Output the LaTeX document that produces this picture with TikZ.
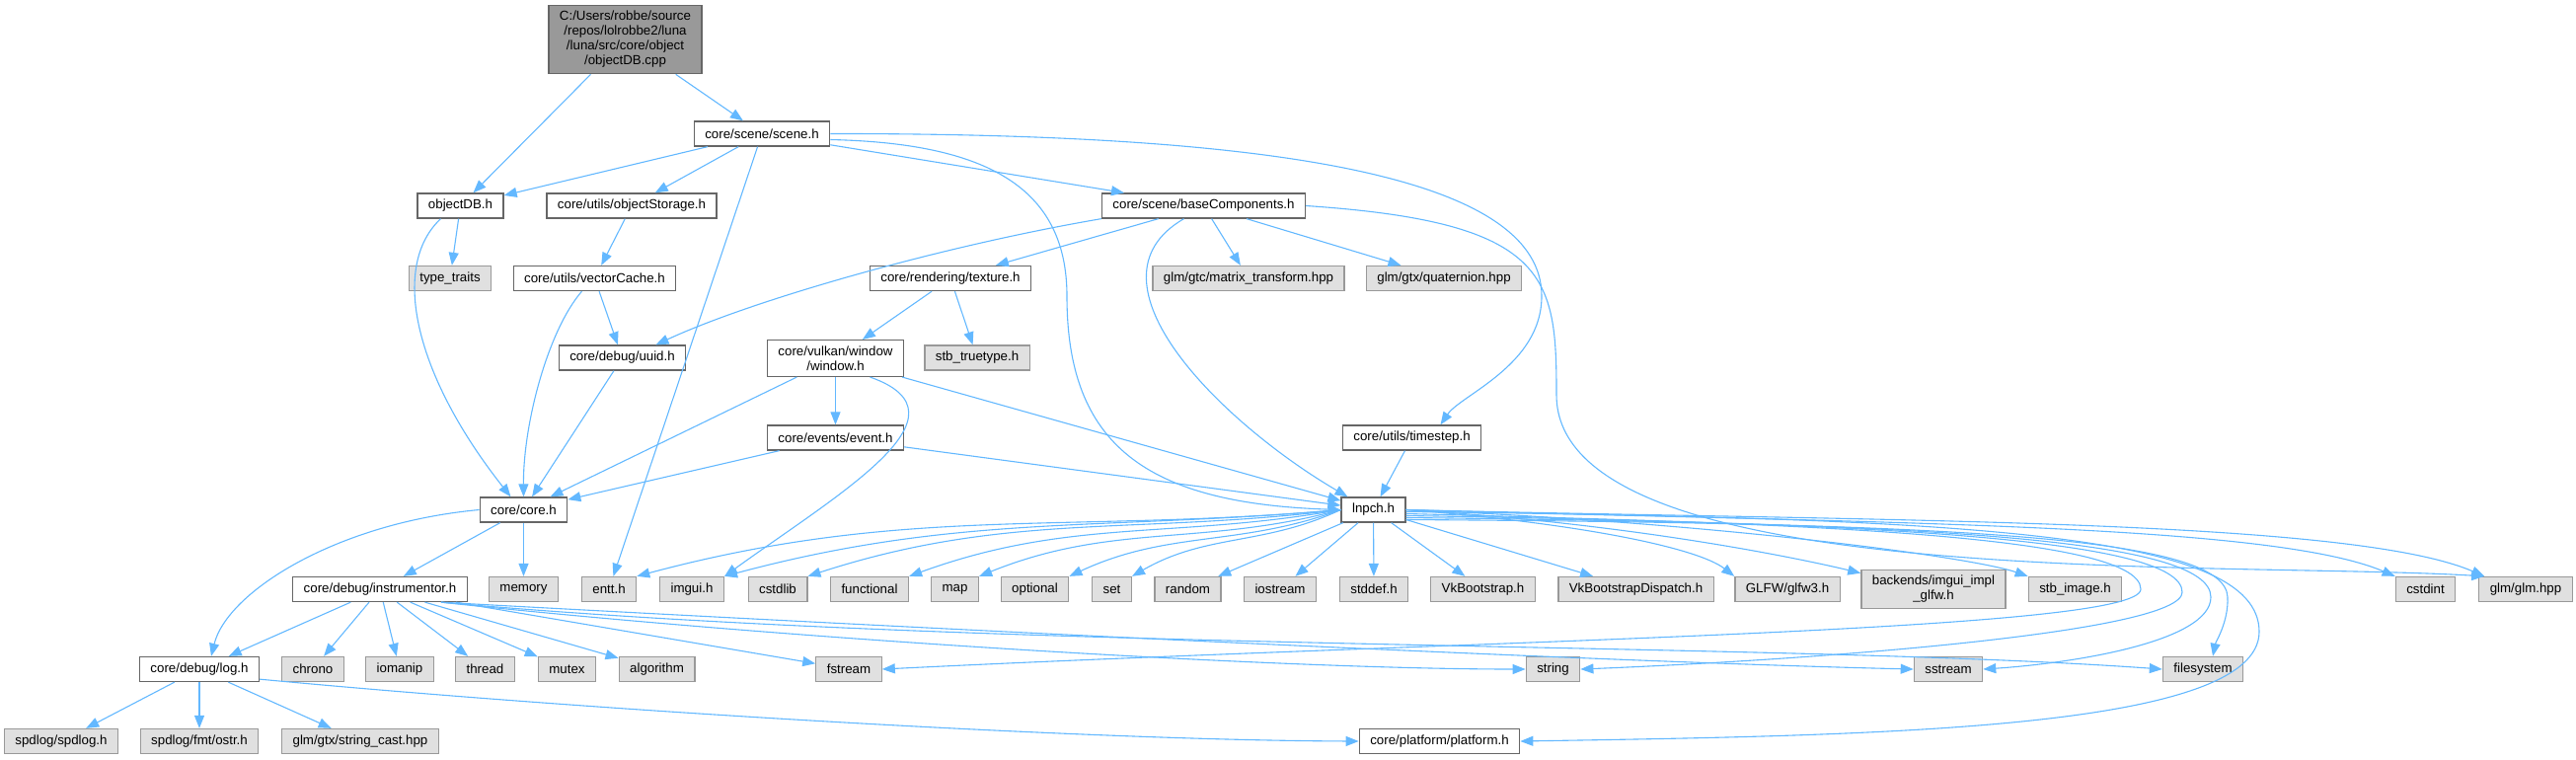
\documentclass[tikz,border=0pt]{standalone}
\usepackage{fontspec}
\setmainfont{Liberation Sans}
\usetikzlibrary{arrows.meta}
\definecolor{edgeblue}{HTML}{63B8FF}
\definecolor{hdrline}{HTML}{666666}
\definecolor{sysline}{HTML}{999999}
\definecolor{sysfill}{HTML}{E0E0E0}
\definecolor{rootfill}{HTML}{999999}

\begin{document}
\begin{tikzpicture}[x=1pt, y=1pt,
  every node/.style = {shape=rectangle, draw=hdrline, fill=white,
    line width=1.3pt, align=center, font=\fontsize{13.3}{15}\selectfont,
    inner xsep=11pt, inner ysep=6pt, minimum height=25pt},
  sys/.style = {draw=sysline, fill=sysfill},
  root/.style = {fill=rootfill},
  inc/.style = {draw=edgeblue, line width=1.1pt,
    -{Triangle[length=13pt, width=10pt]}}]
  \useasboundingbox (0,0) rectangle (2610,-769);

  \node[root] (cpp) at (633.5,-40) {C:/Users/robbe/source\\/repos/lolrobbe2/luna\\/luna/src/core/object\\/objectDB.cpp};
  \node (scene) at (772,-135.5) {core/scene/scene.h};
  \node (objdbh) at (466.5,-208.5) {objectDB.h};
  \node (objstor) at (640,-208.5) {core/utils/objectStorage.h};
  \node (base) at (1219.5,-208.5) {core/scene/baseComponents.h};
  \node[sys] (typetr) at (456,-282) {type\_traits};
  \node (veccache) at (602.5,-282) {core/utils/vectorCache.h};
  \node (texture) at (963,-282) {core/rendering/texture.h};
  \node[sys] (matrix) at (1265,-282) {glm/gtc/matrix\_transform.hpp};
  \node[sys] (quat) at (1463,-282) {glm/gtx/quaternion.hpp};
  \node (uuid) at (630.5,-362.5) {core/debug/uuid.h};
  \node (window) at (846.5,-363) {core/vulkan/window\\/window.h};
  \node[sys] (truetype) at (990,-362.5) {stb\_truetype.h};
  \node (event) at (846.5,-443.5) {core/events/event.h};
  \node (timestep) at (1430.5,-443.5) {core/utils/timestep.h};
  \node (core) at (530.5,-516.5) {core/core.h};
  \node (lnpch) at (1391.5,-516.5) {lnpch.h};

  \node (instr) at (385,-597) {core/debug/instrumentor.h};
  \node[sys] (memory) at (530.5,-597) {memory};
  \node[sys] (entt) at (617,-597) {entt.h};
  \node[sys] (imgui) at (701,-597) {imgui.h};
  \node[sys] (cstdlib) at (788,-597) {cstdlib};
  \node[sys] (functional) at (881,-597) {functional};
  \node[sys] (map) at (967.5,-597) {map};
  \node[sys] (optional) at (1048.5,-597) {optional};
  \node[sys] (set) at (1126.5,-597) {set};
  \node[sys] (random) at (1203.5,-597) {random};
  \node[sys] (iostream) at (1297,-597) {iostream};
  \node[sys] (stddef) at (1392,-597) {stddef.h};
  \node[sys] (vkb) at (1502.5,-597) {VkBootstrap.h};
  \node[sys] (vkbd) at (1657.5,-597) {VkBootstrapDispatch.h};
  \node[sys] (glfw) at (1811,-597) {GLFW/glfw3.h};
  \node[sys] (backends) at (1959,-597) {backends/imgui\_impl\\\_glfw.h};
  \node[sys] (stbimage) at (2102.5,-597) {stb\_image.h};
  \node[sys] (cstdint) at (2457.5,-597) {cstdint};
  \node[sys] (glm) at (2559,-597) {glm/glm.hpp};

  \node (log) at (202,-678) {core/debug/log.h};
  \node[sys] (chrono) at (317,-678) {chrono};
  \node[sys] (iomanip) at (405,-678) {iomanip};
  \node[sys] (thread) at (491.5,-678) {thread};
  \node[sys] (mutex) at (574.5,-678) {mutex};
  \node[sys] (algorithm) at (665.5,-678) {algorithm};
  \node[sys] (fstream) at (860,-678) {fstream};
  \node[sys] (string) at (1573.5,-678) {string};
  \node[sys] (sstream) at (1974,-678) {sstream};
  \node[sys] (filesystem) at (2232,-678) {filesystem};

  \node[sys] (spdlog) at (62,-751) {spdlog/spdlog.h};
  \node[sys] (ostr) at (202,-751) {spdlog/fmt/ostr.h};
  \node[sys] (strcast) at (365,-751) {glm/gtx/string\_cast.hpp};
  \node (platform) at (1458.5,-751) {core/platform/platform.h};

  \foreach \a/\b in {cpp/objdbh, cpp/scene, scene/objdbh, scene/objstor,
      scene/base, scene/entt, base/texture, base/matrix, base/quat,
      objdbh/typetr, objstor/veccache, veccache/uuid, uuid/core,
      texture/window, texture/truetype, window/core, window/event,
      window/lnpch, event/core, event/lnpch, timestep/lnpch,
      core/instr, core/memory, instr/log, instr/chrono, instr/iomanip,
      instr/thread, instr/mutex, instr/algorithm, instr/fstream,
      log/spdlog, log/ostr, log/strcast, lnpch/random, lnpch/iostream,
      lnpch/stddef, lnpch/vkb, lnpch/vkbd}
    \draw[inc] (\a) -- (\b);

  \foreach \b/\o/\i in {entt/185/15, imgui/185/15, cstdlib/187/18,
      functional/190/20, map/195/22, optional/200/25, set/205/30}
    \draw[inc] (lnpch.west) to[out=\o, in=\i] (\b.north east);

  \draw[inc] ([yshift=-6]scene.east) .. controls (1000,-145) and (1081,-190) .. (1081,-300)
    .. controls (1081,-450) and (1160,-510) .. (lnpch.west);
  \draw[inc] (scene.east) .. controls (1300,-135) and (1562,-180) .. (1562,-300)
    .. controls (1562,-370) and (1480,-400) .. ([xshift=29]timestep.north);
  \draw[inc] (base.south west) .. controls (950,-250) and (760,-305) .. ([xshift=34]uuid.north);
  \draw[inc] ([xshift=-20]base.south) .. controls (1090,-285) and (1240,-430) .. ([xshift=-26]lnpch.north);
  \draw[inc] (base.east) .. controls (1570,-225) and (1577,-280) .. (1577,-400)
    .. controls (1577,-600) and (2250,-568) .. ([xshift=6]glm.north west);
  \draw[inc] ([xshift=-20]objdbh.south) .. controls (395,-270) and (420,-380) .. ([xshift=-13]core.north);
  \draw[inc] ([xshift=-13]veccache.south) .. controls (555,-335) and (530,-430) .. (core.north);
  \draw[inc] ([xshift=35]window.south) .. controls (990,-420) and (850,-500) .. (imgui.north east);
  \draw[inc] (core.west) .. controls (340,-530) and (230,-600) .. ([xshift=12]log.north);
  \draw[inc] ([yshift=3]log.south east) .. controls (600,-720) and (1100,-750) .. (platform.west);

  \draw[inc] (instr.-12) .. controls (800,-648) and (1300,-678) .. (string.west);
  \draw[inc] (instr.-12) .. controls (900,-635) and (1600,-670) .. (sstream.west);
  \draw[inc] (instr.-12) .. controls (1000,-660) and (1800,-650) .. (filesystem.west);

  \draw[inc] (lnpch.east) .. controls (1600,-530) and (1720,-555) .. (glfw.north west);
  \draw[inc] (lnpch.east) .. controls (1650,-530) and (1820,-565) .. ([yshift=-4]backends.north west);
  \draw[inc] (lnpch.east) .. controls (1750,-530) and (2000,-565) .. (stbimage.north west);
  \draw[inc] (lnpch.east) .. controls (1900,-530) and (2300,-530) .. (cstdint.north west);
  \draw[inc] (lnpch.east) .. controls (1900,-528) and (2380,-525) .. ([xshift=6]glm.north west);

  \draw[inc] ([yshift=-4]lnpch.east) .. controls (1800,-530) and (2169,-540) .. (2169,-597)
    .. controls (2169,-640) and (1500,-648) .. (fstream.east);
  \draw[inc] ([yshift=-6]lnpch.east) .. controls (1900,-530) and (2211,-545) .. (2211,-600)
    .. controls (2211,-640) and (1850,-668) .. (string.east);
  \draw[inc] ([yshift=-8]lnpch.east) .. controls (1950,-530) and (2240,-545) .. (2240,-605)
    .. controls (2240,-650) and (2100,-672) .. (sstream.east);
  \draw[inc] ([yshift=-10]lnpch.east) .. controls (2000,-530) and (2255,-545) .. (2257,-605)
    .. controls (2258,-630) and (2245,-650) .. ([xshift=10]filesystem.north);
  \draw[inc] ([yshift=-2]lnpch.east) .. controls (2000,-525) and (2289,-540) .. (2289,-640)
    .. controls (2289,-740) and (1900,-745) .. (platform.east);
\end{tikzpicture}
\end{document}
